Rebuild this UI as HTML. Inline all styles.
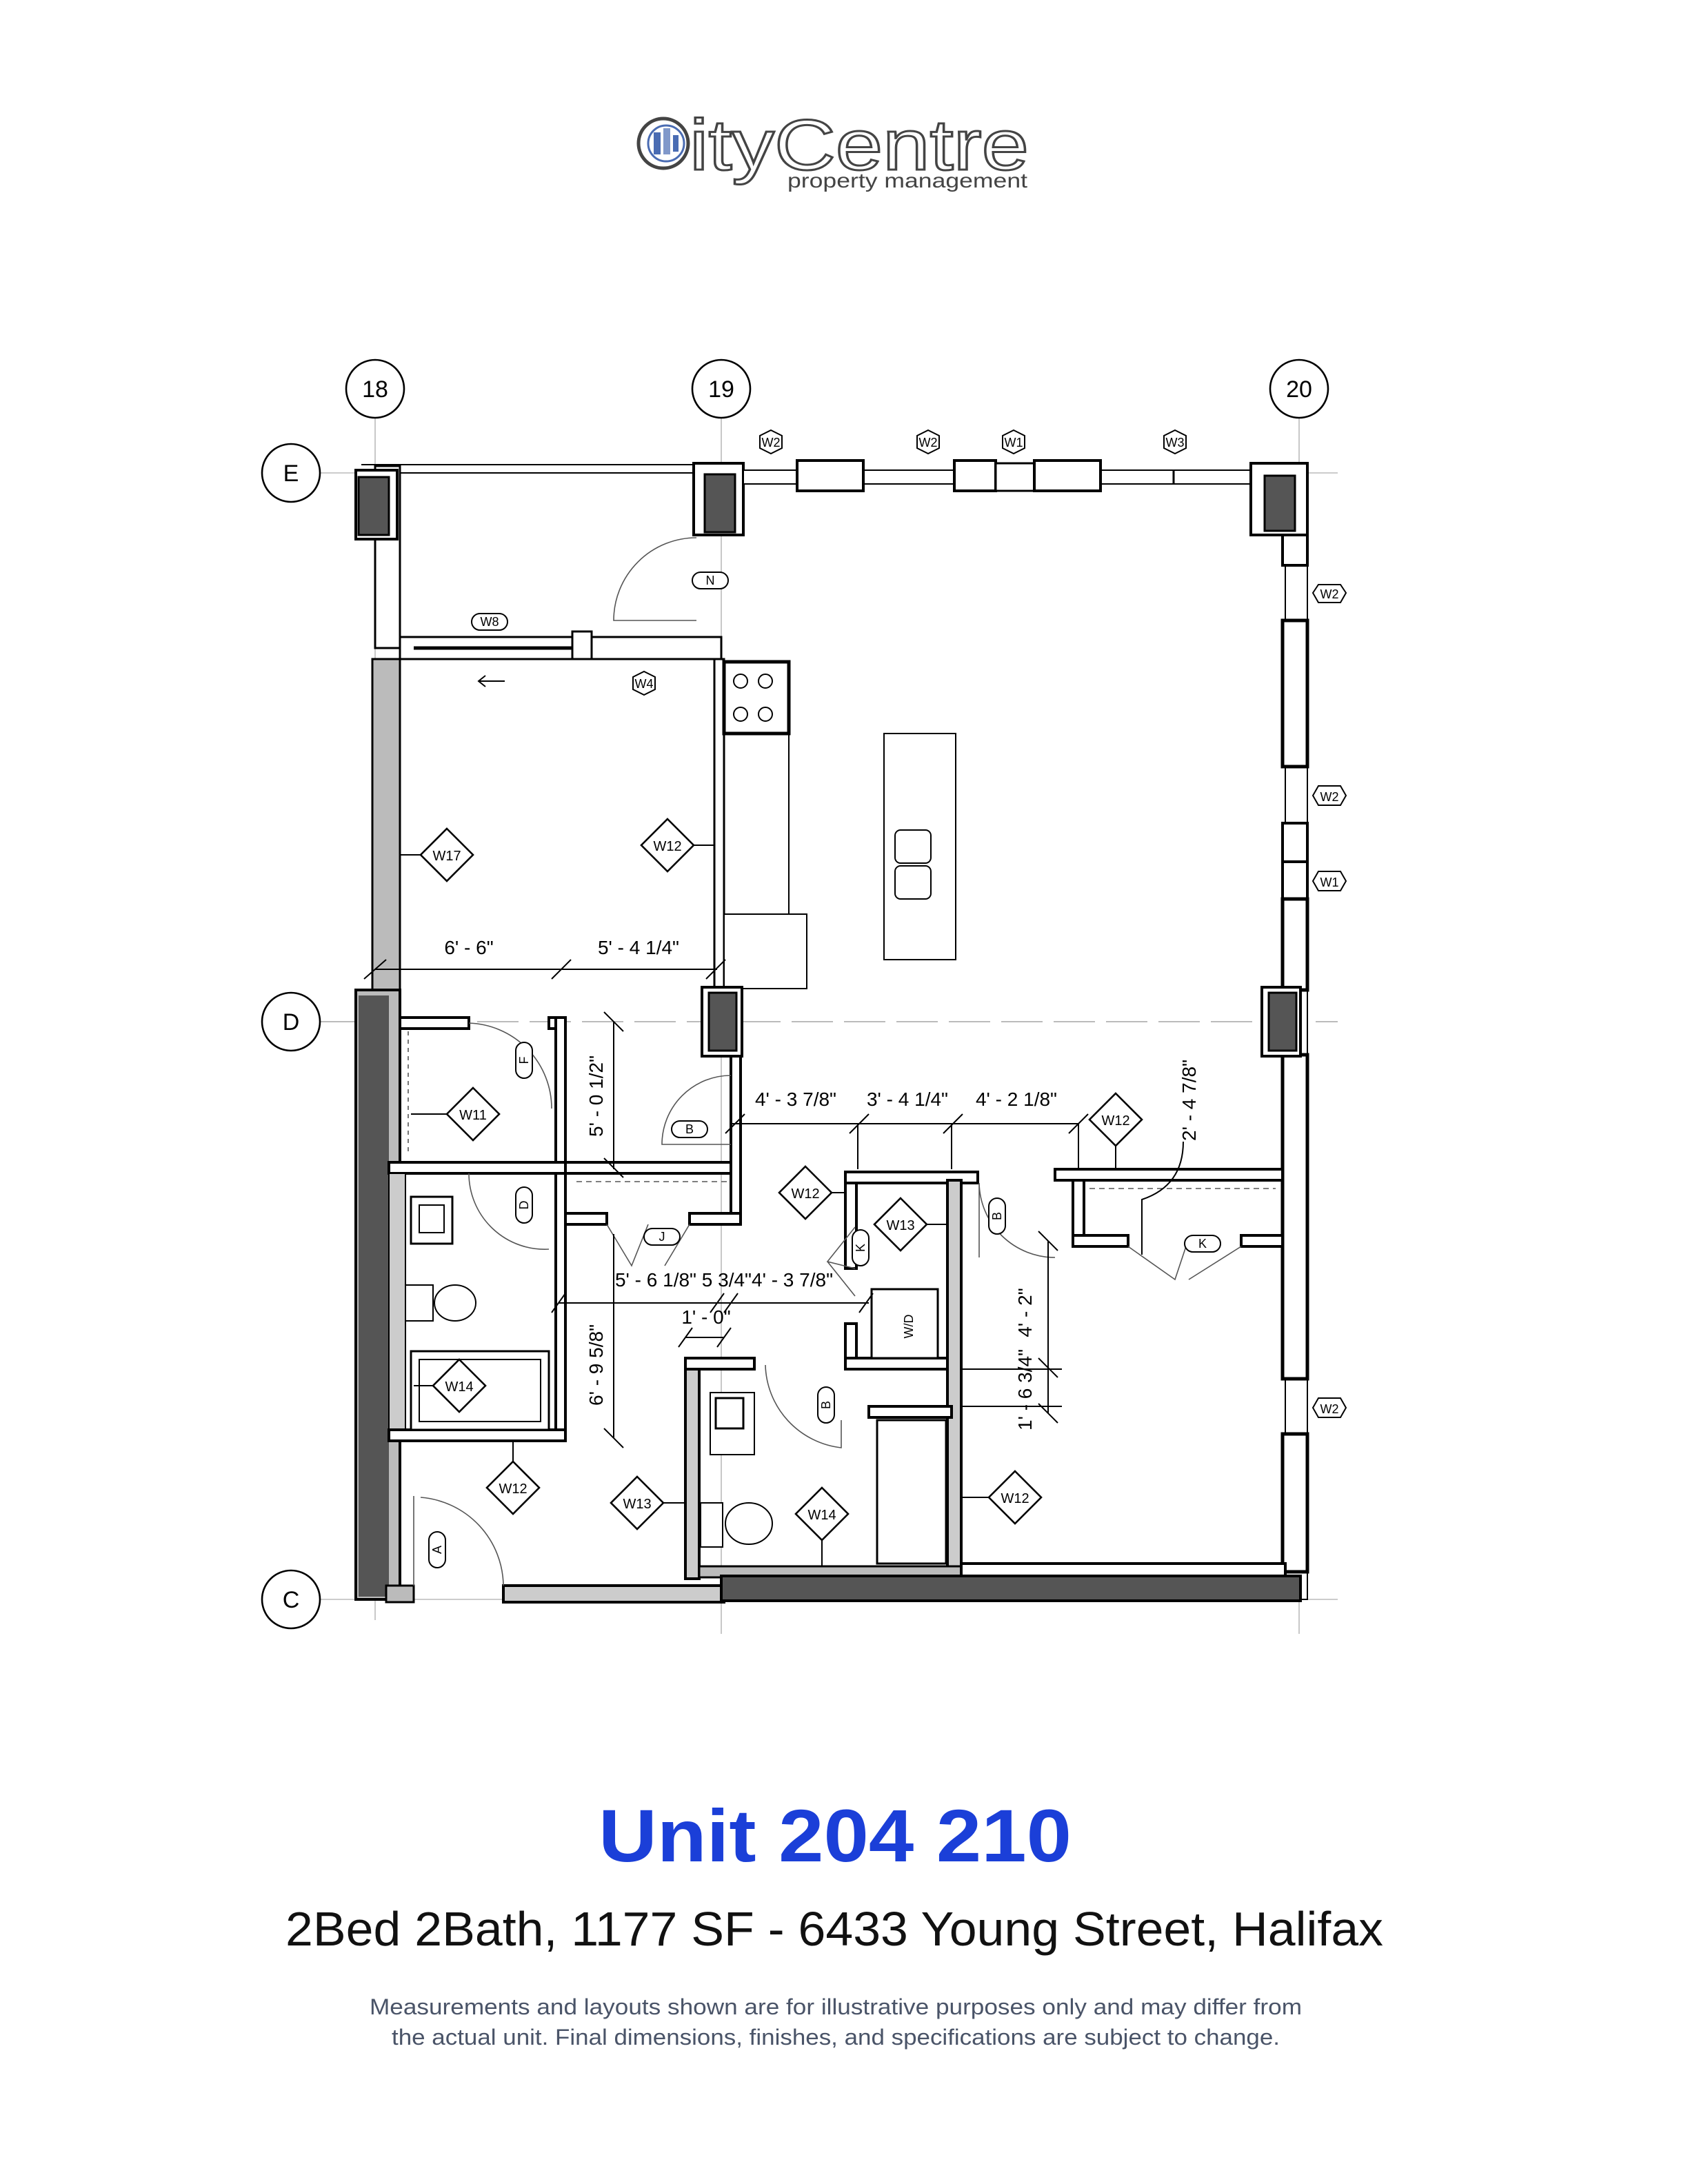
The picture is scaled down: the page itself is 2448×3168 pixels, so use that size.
<!DOCTYPE html>
<html><head><meta charset="utf-8"><style>
html,body{margin:0;padding:0;background:#fff}
svg{display:block}
</style></head><body>
<svg width="2448" height="3168" viewBox="0 0 1224 1584" xmlns="http://www.w3.org/2000/svg" font-family="Liberation Sans, sans-serif">
<rect width="1224" height="1584" fill="#fff"/>
<!-- Logo -->
<circle cx="481" cy="104" r="18" fill="#fff" stroke="#444" stroke-width="2.5"/>
<circle cx="483" cy="104" r="13" fill="#fff" stroke="#4a6cb3" stroke-width="1.5"/>
<rect x="474" y="96" width="5" height="16" fill="#4a6cb3"/><rect x="481" y="93" width="5" height="19" fill="#4a6cb3" opacity=".7"/><rect x="488" y="98" width="4" height="12" fill="#4a6cb3"/>
<text x="500" y="123" font-size="52" fill="#fff" stroke="#444" stroke-width="1.5" textLength="246" lengthAdjust="spacingAndGlyphs">ityCentre</text>
<text x="571" y="136" font-size="15" fill="#444" textLength="174" lengthAdjust="spacingAndGlyphs">property management</text>

<!-- grid lines -->
<g stroke="#bbb" stroke-width="0.8">
<line x1="272" y1="303" x2="272" y2="1175"/><line x1="523" y1="303" x2="523" y2="1185"/><line x1="942" y1="303" x2="942" y2="1185"/>
<line x1="232" y1="343" x2="970" y2="343"/>
<line x1="232" y1="1160" x2="970" y2="1160"/>
</g>
<line x1="232" y1="741" x2="970" y2="741" stroke="#bbb" stroke-width="1" stroke-dasharray="30,8"/>
<g fill="#fff" stroke="#000" stroke-width="1.3" font-size="17" text-anchor="middle">
<circle cx="272" cy="282" r="21"/><circle cx="523" cy="282" r="21"/><circle cx="942" cy="282" r="21"/>
<circle cx="211" cy="343" r="21"/><circle cx="211" cy="741" r="21"/><circle cx="211" cy="1160" r="21"/>
</g>
<g font-size="17" text-anchor="middle" fill="#000">
<text x="272" y="288">18</text><text x="523" y="288">19</text><text x="942" y="288">20</text>
<text x="211" y="349">E</text><text x="211" y="747">D</text><text x="211" y="1166">C</text>
</g>

<g stroke="#000" fill="#fff" stroke-width="1.5">
<rect x="272" y="338" width="18" height="132"/>
<line x1="262" y1="337" x2="505" y2="337" stroke-width="1"/>
<line x1="290" y1="343" x2="505" y2="343" stroke-width="1"/>
<rect x="258" y="341" width="30" height="50" stroke-width="2"/>
<rect x="260" y="346" width="22" height="42" fill="#555"/>
<rect x="290" y="462" width="233" height="16"/>
<line x1="300" y1="470" x2="415" y2="470" stroke-width="2.5"/>
<rect x="415" y="458" width="14" height="20"/>
<rect x="503" y="336" width="36" height="52" stroke-width="2"/>
<rect x="511" y="344" width="22" height="42" fill="#555"/>
<rect x="539" y="341" width="368" height="10" stroke-width="1"/>
<rect x="578" y="334" width="48" height="22" stroke-width="2"/>
<rect x="692" y="334" width="30" height="22" stroke-width="2"/>
<rect x="722" y="336" width="28" height="20"/>
<rect x="750" y="334" width="48" height="22" stroke-width="2"/>
<line x1="851" y1="341" x2="851" y2="351"/>
<rect x="907" y="336" width="41" height="52" stroke-width="2"/>
<rect x="917" y="345" width="22" height="40" fill="#555"/>
<rect x="932" y="388" width="16" height="772" stroke-width="1"/>
<rect x="930" y="388" width="18" height="22" stroke-width="2"/>
<rect x="930" y="450" width="18" height="106" stroke-width="2.5"/>
<rect x="930" y="597" width="18" height="28" stroke-width="2"/>
<rect x="930" y="625" width="18" height="28" stroke-width="2"/>
<rect x="930" y="652" width="18" height="66" stroke-width="2.5"/>
<rect x="930" y="765" width="18" height="235" stroke-width="2.5"/>
<rect x="930" y="1040" width="18" height="100" stroke-width="2.5"/>
<rect x="915" y="716" width="28" height="50" stroke-width="2"/>
<rect x="920" y="720" width="20" height="42" fill="#555"/>
<rect x="270" y="478" width="20" height="240" fill="#bbb"/>
<rect x="518" y="478" width="7" height="240"/>
<rect x="525" y="480" width="47" height="52" stroke-width="2.5"/>
<line x1="572" y1="532" x2="572" y2="663" stroke-width="1"/>
<rect x="525" y="663" width="60" height="54" stroke-width="1"/>
<rect x="641" y="532" width="52" height="164" stroke-width="1"/>
<rect x="649" y="602" width="26" height="24" rx="4" stroke-width="1"/>
<rect x="649" y="628" width="26" height="24" rx="4" stroke-width="1"/>
<rect x="509" y="716" width="29" height="50" stroke-width="2"/>
<rect x="514" y="720" width="20" height="42" fill="#555"/>
<rect x="530" y="766" width="7" height="14"/>
<rect x="258" y="718" width="32" height="442" fill="#bbb" stroke-width="2"/>
<rect x="260" y="722" width="22" height="436" fill="#555" stroke="none"/>
<rect x="290" y="738" width="50" height="8" stroke-width="2"/>
<rect x="398" y="738" width="12" height="8" stroke-width="2"/>
<rect x="403" y="738" width="7" height="307" stroke-width="2"/>
<rect x="282" y="843" width="128" height="8" stroke-width="2"/>
<rect x="410" y="843" width="127" height="8" stroke-width="2"/>
<rect x="530" y="766" width="7" height="122" stroke-width="2"/>
<rect x="410" y="880" width="30" height="8" stroke-width="2"/>
<rect x="500" y="880" width="37" height="8" stroke-width="2"/>
<rect x="282" y="851" width="12" height="186" fill="#ccc" stroke-width="1"/>
<rect x="282" y="1037" width="128" height="8" stroke-width="2"/>
<rect x="298" y="980" width="100" height="57" stroke-width="1.5"/>
<rect x="304" y="986" width="88" height="45" stroke-width="1"/>
<rect x="298" y="868" width="30" height="34" stroke-width="1.5"/>
<rect x="304" y="874" width="18" height="20" stroke-width="1"/>
<rect x="294" y="932" width="20" height="26" stroke-width="1"/>
<ellipse cx="330" cy="945" rx="15" ry="13" stroke-width="1"/>
<rect x="497" y="985" width="10" height="160" fill="#ccc" stroke-width="2"/>
<rect x="497" y="985" width="50" height="8" stroke-width="2"/>
<rect x="613" y="850" width="8" height="70" stroke-width="2"/>
<rect x="613" y="850" width="96" height="8" stroke-width="2"/>
<rect x="687" y="856" width="10" height="284" fill="#ccc" stroke-width="2"/>
<rect x="613" y="960" width="8" height="30" stroke-width="2"/>
<rect x="613" y="985" width="74" height="8" stroke-width="2"/>
<rect x="632" y="935" width="48" height="50" stroke-width="1.5"/>
<rect x="630" y="1020" width="60" height="8" stroke-width="2"/>
<rect x="636" y="1030" width="50" height="104" stroke-width="1.5"/>
<rect x="515" y="1010" width="32" height="45" stroke-width="1"/>
<rect x="519" y="1014" width="20" height="22" stroke-width="1.5"/>
<rect x="508" y="1090" width="16" height="32" stroke-width="1"/>
<ellipse cx="543" cy="1105" rx="17" ry="15" stroke-width="1"/>
<rect x="765" y="848" width="165" height="8" stroke-width="2"/>
<rect x="778" y="856" width="8" height="44" stroke-width="2"/>
<rect x="778" y="896" width="40" height="8" stroke-width="2"/>
<rect x="900" y="896" width="30" height="8" stroke-width="2"/>
<rect x="280" y="1150" width="20" height="12" fill="#bbb"/>
<rect x="365" y="1150" width="160" height="12" fill="#ccc" stroke-width="2"/>
<rect x="507" y="1136" width="190" height="8" fill="#bbb" stroke-width="1.5"/>
<rect x="523" y="1143" width="420" height="18" fill="#555" stroke-width="2"/>
<rect x="697" y="1134" width="235" height="9" stroke-width="2"/>
</g>
<g fill="none" stroke="#000" stroke-width="1">
<circle cx="537" cy="494" r="5"/><circle cx="555" cy="494" r="5"/><circle cx="537" cy="518" r="5"/><circle cx="555" cy="518" r="5"/>
</g>
<g fill="none" stroke="#555" stroke-width="0.8">
<path d="M505 390 A60 60 0 0 0 445 450 L505 450"/>
<path d="M340 742 A62 62 0 0 1 400 804"/>
<path d="M340 851 A55 55 0 0 0 398 906"/>
<path d="M530 780 A50 50 0 0 0 480 830 L530 830"/>
<path d="M300 1085 L300 1150 M305 1086 A65 65 0 0 1 365 1150"/>
<path d="M555 990 A62 62 0 0 0 610 1050 L610 1030"/>
<path d="M710 858 A55 55 0 0 0 765 912 M710 912 L710 858"/>
<path d="M440 888 L458 918 L470 888 M500 888 L482 918"/>
<path d="M620 920 L600 915 L620 890 M620 940 L600 915"/>
<path d="M818 904 L852 928 L860 904 M900 904 L862 928"/>
<line x1="418" y1="857" x2="528" y2="857" stroke-dasharray="4 3"/>
<line x1="790" y1="862" x2="925" y2="862" stroke-dasharray="4 3"/>
<line x1="296" y1="748" x2="296" y2="838" stroke-dasharray="3 3"/>
</g>
<g stroke="#000" stroke-width="1" fill="none">
<line x1="272" y1="703" x2="520" y2="703"/>
<line x1="264" y1="710" x2="280" y2="696"/><line x1="400" y1="710" x2="414" y2="696"/><line x1="512" y1="710" x2="526" y2="696"/>
<line x1="445" y1="741" x2="445" y2="848"/>
<line x1="438" y1="734" x2="452" y2="748"/><line x1="438" y1="840" x2="452" y2="854"/>
<line x1="445" y1="895" x2="445" y2="1043"/>
<line x1="438" y1="1036" x2="452" y2="1050"/>
<line x1="530" y1="815" x2="782" y2="815"/>
<line x1="526" y1="822" x2="540" y2="808"/><line x1="616" y1="822" x2="630" y2="808"/><line x1="684" y1="822" x2="698" y2="808"/><line x1="775" y1="822" x2="789" y2="808"/>
<line x1="622" y1="815" x2="622" y2="848"/><line x1="690" y1="815" x2="690" y2="848"/><line x1="782" y1="815" x2="782" y2="848"/>
<line x1="405" y1="945" x2="630" y2="945"/>
<line x1="400" y1="952" x2="410" y2="938"/><line x1="515" y1="952" x2="525" y2="938"/><line x1="525" y1="952" x2="535" y2="938"/><line x1="623" y1="952" x2="633" y2="938"/>
<line x1="497" y1="970" x2="525" y2="970"/>
<line x1="492" y1="977" x2="502" y2="963"/><line x1="520" y1="977" x2="530" y2="963"/>
<line x1="760" y1="900" x2="760" y2="1025"/>
<line x1="753" y1="893" x2="767" y2="907"/><line x1="753" y1="985" x2="767" y2="999"/><line x1="753" y1="1018" x2="767" y2="1032"/>
<line x1="697" y1="993" x2="770" y2="993"/><line x1="697" y1="1020" x2="770" y2="1020"/>
<path d="M858 828 Q858 860 828 870 L828 910"/>
<line x1="348" y1="494" x2="366" y2="494"/><path d="M352 490 L347 494 L352 498"/>
</g>
<g font-size="14" fill="#000" text-anchor="middle">
<text x="340" y="692">6' - 6"</text>
<text x="463" y="692">5' - 4 1/4"</text>
<text x="577" y="802">4' - 3 7/8"</text>
<text x="658" y="802">3' - 4 1/4"</text>
<text x="737" y="802">4' - 2 1/8"</text>
<text x="525" y="933">5' - 6 1/8" 5 3/4"4' - 3 7/8"</text>
<text x="512" y="960">1' - 0"</text>
<text transform="translate(437,795) rotate(-90)">5' - 0 1/2"</text>
<text transform="translate(437,990) rotate(-90)">6' - 9 5/8"</text>
<text transform="translate(748,952) rotate(-90)">4' - 2"</text>
<text transform="translate(748,1008) rotate(-90)">1' - 6 3/4"</text>
<text transform="translate(867,798) rotate(-90)">2' - 4 7/8"</text>
</g>
<g fill="#fff" stroke="#000" stroke-width="1.3">
<path d="M324 601 L343 620 L324 639 L305 620Z"/>
<path d="M484 594 L503 613 L484 632 L465 613Z"/>
<path d="M343 789 L362 808 L343 827 L324 808Z"/>
<path d="M584 846 L603 865 L584 884 L565 865Z"/>
<path d="M653 869 L672 888 L653 907 L634 888Z"/>
<path d="M809 793 L828 812 L809 831 L790 812Z"/>
<path d="M333 986 L352 1005 L333 1024 L314 1005Z"/>
<path d="M372 1060 L391 1079 L372 1098 L353 1079Z"/>
<path d="M462 1071 L481 1090 L462 1109 L443 1090Z"/>
<path d="M596 1079 L615 1098 L596 1117 L577 1098Z"/>
<path d="M736 1067 L755 1086 L736 1105 L717 1086Z"/>
</g>
<g stroke="#000" stroke-width="1">
<line x1="305" y1="620" x2="290" y2="620"/><line x1="503" y1="613" x2="518" y2="613"/>
<line x1="324" y1="808" x2="298" y2="808"/><line x1="603" y1="865" x2="614" y2="865"/>
<line x1="672" y1="888" x2="687" y2="888"/><line x1="809" y1="831" x2="809" y2="848"/>
<line x1="314" y1="1005" x2="300" y2="1005"/><line x1="372" y1="1060" x2="372" y2="1045"/>
<line x1="481" y1="1090" x2="497" y2="1090"/><line x1="596" y1="1117" x2="596" y2="1136"/>
<line x1="717" y1="1086" x2="697" y2="1086"/>
</g>
<g font-size="10" text-anchor="middle" fill="#000">
<text x="324" y="624">W17</text><text x="484" y="617">W12</text><text x="343" y="812">W11</text>
<text x="584" y="869">W12</text><text x="653" y="892">W13</text><text x="809" y="816">W12</text>
<text x="333" y="1009">W14</text><text x="372" y="1083">W12</text><text x="462" y="1094">W13</text>
<text x="596" y="1102">W14</text><text x="736" y="1090">W12</text>
</g>
<g fill="#fff" stroke="#000" stroke-width="1">
<path d="M559 312 L567 316 L567 325 L559 329 L551 325 L551 316Z"/>
<path d="M673 312 L681 316 L681 325 L673 329 L665 325 L665 316Z"/>
<path d="M735 312 L743 316 L743 325 L735 329 L727 325 L727 316Z"/>
<path d="M852 312 L860 316 L860 325 L852 329 L844 325 L844 316Z"/>
<path d="M467 487 L475 491 L475 500 L467 504 L459 500 L459 491Z"/>
<path d="M956 424 L972 424 L976 430 L972 437 L956 437 L952 430Z"/>
<path d="M956 570 L972 570 L976 577 L972 584 L956 584 L952 577Z"/>
<path d="M956 632 L972 632 L976 639 L972 646 L956 646 L952 639Z"/>
<path d="M956 1014 L972 1014 L976 1021 L972 1028 L956 1028 L952 1021Z"/>
</g>
<g font-size="9" text-anchor="middle" fill="#000">
<text x="559" y="324">W2</text><text x="673" y="324">W2</text><text x="735" y="324">W1</text><text x="852" y="324">W3</text>
<text x="467" y="499">W4</text><text x="964" y="434">W2</text><text x="964" y="581">W2</text><text x="964" y="643">W1</text><text x="964" y="1025">W2</text>
</g>
<g fill="#fff" stroke="#000" stroke-width="1">
<rect x="342" y="445" width="26" height="12" rx="6"/>
<rect x="502" y="415" width="26" height="12" rx="6"/>
<rect x="487" y="813" width="26" height="12" rx="6"/>
<rect x="467" y="891" width="26" height="12" rx="6"/>
<rect x="859" y="896" width="26" height="12" rx="6"/>
<rect x="374" y="756" width="12" height="26" rx="6"/>
<rect x="374" y="861" width="12" height="26" rx="6"/>
<rect x="618" y="892" width="12" height="26" rx="6"/>
<rect x="717" y="869" width="12" height="26" rx="6"/>
<rect x="593" y="1006" width="12" height="26" rx="6"/>
<rect x="311" y="1111" width="12" height="26" rx="6"/>
</g>
<g font-size="9" text-anchor="middle" fill="#000">
<text x="355" y="454">W8</text><text x="515" y="424">N</text><text x="500" y="822">B</text><text x="480" y="900">J</text><text x="872" y="905">K</text>
<text transform="translate(383,769) rotate(-90)">F</text><text transform="translate(383,874) rotate(-90)">D</text>
<text transform="translate(627,905) rotate(-90)">K</text><text transform="translate(726,882) rotate(-90)">B</text>
<text transform="translate(602,1019) rotate(-90)">B</text><text transform="translate(320,1124) rotate(-90)">A</text>
<text transform="translate(662,962) rotate(-90)">W/D</text>
</g>

<text x="434" y="1350" font-size="54" font-weight="bold" fill="#1b3fd8" textLength="343" lengthAdjust="spacingAndGlyphs">Unit 204 210</text>
<text x="207" y="1411" font-size="35" fill="#111" textLength="796" lengthAdjust="spacingAndGlyphs">2Bed 2Bath,  1177 SF - 6433 Young Street, Halifax</text>
<text x="268" y="1461" font-size="16" fill="#4a5468" textLength="676" lengthAdjust="spacingAndGlyphs">Measurements and layouts shown are for illustrative purposes only and may differ from</text>
<text x="284" y="1483" font-size="16" fill="#4a5468" textLength="644" lengthAdjust="spacingAndGlyphs">the actual unit. Final dimensions, finishes, and specifications are subject to change.</text>
</svg>
</body></html>
